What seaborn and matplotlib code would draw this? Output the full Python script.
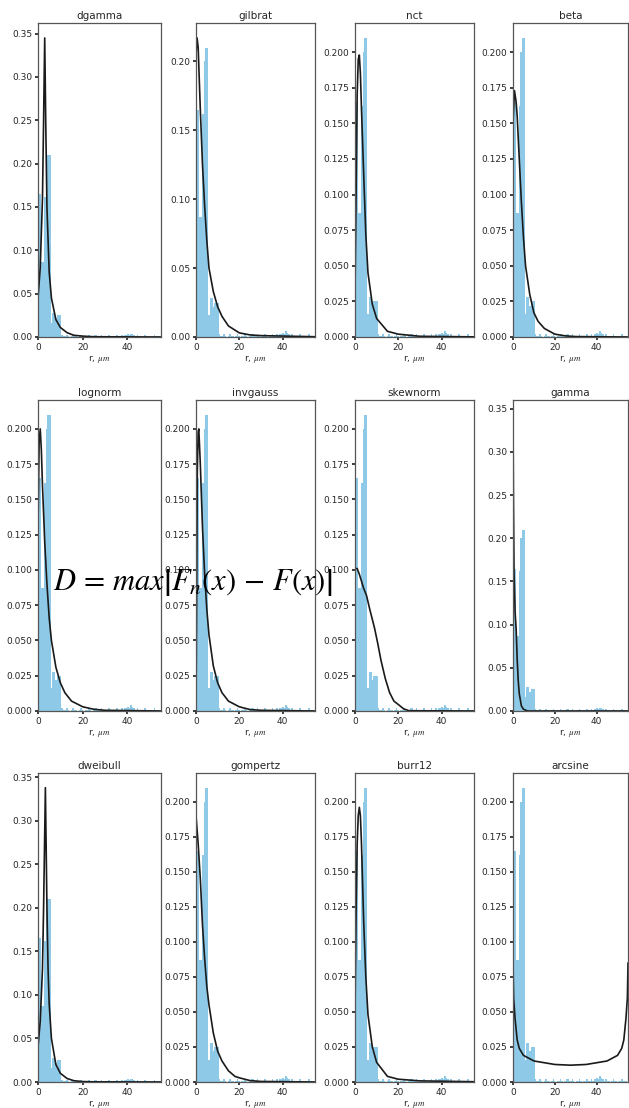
import numpy as np
import pandas as pd
import matplotlib
matplotlib.use('Agg')
import matplotlib.pyplot as plt
from matplotlib.ticker import MultipleLocator
import seaborn as sns

# histogram of measured radii (density), bin width 0.7 um starting at 0
bin_width = 0.7
hist_density = [0.165, 0.165, 0.087, 0.087, 0.162, 0.200, 0.210, 0.210, 0.016, 0.028,
                0.028, 0.022, 0.025, 0.025, 0.025,
                0.002, 0.001, 0.001, 0.002, 0.001, 0.0, 0.001, 0.002, 0.001, 0.001,
                0.0, 0.001, 0.002, 0.001, 0.0, 0.001, 0.001, 0.002, 0.001, 0.0,
                0.001, 0.002, 0.002, 0.001, 0.001, 0.002, 0.001, 0.0, 0.001, 0.001,
                0.002, 0.001, 0.0, 0.001, 0.001, 0.002, 0.001, 0.001, 0.002, 0.001,
                0.002, 0.002, 0.003, 0.002, 0.004, 0.003, 0.002, 0.001, 0.002, 0.001,
                0.001, 0.0, 0.001, 0.002, 0.001, 0.001, 0.0, 0.001, 0.001, 0.002,
                0.001, 0.001, 0.001, 0.0]

dist_names = ['dgamma', 'gilbrat', 'nct', 'beta',
              'lognorm', 'invgauss', 'skewnorm', 'gamma',
              'dweibull', 'gompertz', 'burr12', 'arcsine']

# fitted pdf curves
dgamma_x = [0, 1, 2, 2.5, 3, 3.5, 4, 5, 6, 8, 10, 13, 16, 20, 25, 55]
dgamma_y = [0.045, 0.08, 0.16, 0.25, 0.345, 0.24, 0.15, 0.075, 0.045, 0.02, 0.011, 0.005, 0.002, 0.001, 0.0003, 0]
gilbrat_x = [0, 0.5, 1, 2, 3, 4, 5, 6, 8, 10, 12, 15, 20, 25, 30, 55]
gilbrat_y = [0.205, 0.217, 0.21, 0.165, 0.125, 0.095, 0.07, 0.05, 0.033, 0.022, 0.015, 0.008, 0.003, 0.0015, 0.001, 0.0002]
nct_x = [0, 0.5, 1, 1.5, 2, 2.5, 3, 4, 5, 6, 8, 10, 15, 20, 30, 55]
nct_y = [0.03, 0.10, 0.17, 0.195, 0.198, 0.185, 0.16, 0.115, 0.072, 0.045, 0.023, 0.013, 0.004, 0.002, 0.0005, 0.0001]
beta_x = [0, 0.7, 1.5, 2, 3, 4, 5, 6, 8, 10, 12, 15, 20, 25, 30, 55]
beta_y = [0.15, 0.173, 0.165, 0.155, 0.125, 0.095, 0.07, 0.05, 0.03, 0.017, 0.011, 0.006, 0.002, 0.0008, 0.0003, 0]
lognorm_x = [0, 0.5, 1, 1.5, 2, 3, 4, 5, 6, 8, 10, 12, 15, 20, 25, 30, 55]
lognorm_y = [0.13, 0.19, 0.2, 0.185, 0.16, 0.12, 0.09, 0.066, 0.05, 0.031, 0.02, 0.013, 0.007, 0.003, 0.0012, 0.0005, 0]
invgauss_x = [0, 0.3, 0.6, 1, 1.3, 2, 3, 4, 5, 6, 8, 10, 12, 15, 20, 25, 30, 55]
invgauss_y = [0, 0.08, 0.17, 0.198, 0.2, 0.175, 0.13, 0.097, 0.072, 0.054, 0.032, 0.02, 0.013, 0.007, 0.003, 0.001, 0.0005, 0]
skewnorm_x = [0, 1, 2, 3, 4, 5.3, 7, 9, 10.5, 12, 14, 16, 18, 20.5, 22.5, 25, 55]
skewnorm_y = [0.101, 0.101, 0.097, 0.092, 0.087, 0.082, 0.071, 0.059, 0.048, 0.036, 0.023, 0.013, 0.007, 0.004, 0.0015, 0.0002, 0]
gamma_x = [0, 0.2, 0.5, 1, 1.5, 2, 2.5, 3, 4, 5, 7, 55]
gamma_y = [0.343, 0.25, 0.16, 0.115, 0.095, 0.06, 0.035, 0.02, 0.006, 0.002, 0, 0]
dweibull_x = [0, 1, 2, 2.5, 3.3, 4, 4.5, 5, 6, 8, 10, 13, 16, 20, 25, 55]
dweibull_y = [0.04, 0.07, 0.13, 0.2, 0.338, 0.2, 0.13, 0.09, 0.05, 0.02, 0.01, 0.004, 0.0015, 0.0005, 0.0002, 0]
gompertz_x = [0, 1, 2, 3, 4, 5, 6, 8, 10, 12, 15, 18, 20, 25, 30, 55]
gompertz_y = [0.19, 0.17, 0.145, 0.112, 0.088, 0.068, 0.055, 0.035, 0.022, 0.015, 0.008, 0.004, 0.003, 0.001, 0.0004, 0]
burr12_x = [0, 0.5, 1, 1.5, 2, 2.5, 3, 4, 5, 6, 8, 10, 15, 20, 30, 55]
burr12_y = [0.05, 0.12, 0.17, 0.19, 0.196, 0.19, 0.17, 0.115, 0.075, 0.048, 0.025, 0.014, 0.004, 0.002, 0.0008, 0.0002]
arcsine_x = [0, 0.3, 1, 2, 3, 5, 10, 20, 27.5, 35, 45, 50, 52, 53, 54, 54.7, 55]
arcsine_y = [0.085, 0.06, 0.045, 0.03, 0.024, 0.019, 0.015, 0.0125, 0.012, 0.0125, 0.015, 0.019, 0.024, 0.03, 0.045, 0.06, 0.085]

curves = [(dgamma_x, dgamma_y), (gilbrat_x, gilbrat_y), (nct_x, nct_y), (beta_x, beta_y),
          (lognorm_x, lognorm_y), (invgauss_x, invgauss_y), (skewnorm_x, skewnorm_y), (gamma_x, gamma_y),
          (dweibull_x, dweibull_y), (gompertz_x, gompertz_y), (burr12_x, burr12_y), (arcsine_x, arcsine_y)]
ytick_steps = [0.05, 0.05, 0.025, 0.025,
               0.025, 0.025, 0.025, 0.05,
               0.05, 0.025, 0.025, 0.025]
x_ticks = [0, 20, 40]

sns.set_theme(style='ticks')
plt.rcParams.update({
    'font.family': ['DejaVu Sans'],
    'axes.edgecolor': '#555555',
    'axes.linewidth': 0.9,
    'xtick.labelsize': 6.5,
    'ytick.labelsize': 6.5,
    'xtick.major.size': 2.5,
    'ytick.major.size': 2.5,
    'xtick.major.pad': 1.5,
    'ytick.major.pad': 1.5,
    'mathtext.fontset': 'stix',
})

W, H = 629, 1108
fig = plt.figure(figsize=(W / 100, H / 100), dpi=100)

# pixel layout of the 3x4 grid
col_left = [38, 196, 355, 513]
col_right = [161, 315, 474, 628]
row_top = [23, 400, 773]
row_bottom = [337, 711, 1082]

edges = [k * bin_width for k in range(len(hist_density) + 1)]
hist_df = pd.DataFrame({'r': [e + bin_width / 2 for e in edges[:-1]],
                        'density': hist_density})

for i, name in enumerate(dist_names):
    r, c = divmod(i, 4)
    rect = [col_left[c] / W, 1 - row_bottom[r] / H,
            (col_right[c] - col_left[c]) / W, (row_bottom[r] - row_top[r]) / H]
    ax = fig.add_axes(rect)
    sns.histplot(data=hist_df, x='r', weights='density', bins=edges, ax=ax,
                 color='#82c5e6', alpha=0.9, edgecolor='none', linewidth=0)
    cx, cy = curves[i]
    curve_df = pd.DataFrame({'r': cx, 'pdf': cy})
    sns.lineplot(data=curve_df, x='r', y='pdf', ax=ax, color='#1a1a1a', linewidth=1.2)
    top = max(max(cy), max(hist_density)) * 1.05
    ax.set_ylim(0, top)
    ax.set_xlim(0, 55)
    ax.set_xticks(x_ticks)
    ax.yaxis.set_major_locator(MultipleLocator(ytick_steps[i]))
    ax.set_ylabel('')
    ax.set_xlabel(r'r, $\mu m$', fontsize=6.5, labelpad=1)
    ax.set_title(name, fontsize=7.5, pad=3)

fig.text(53 / W, 1 - 582 / H, r'$D\,=\,max\left|F_n(x)\,-\,F(x)\right|$',
         fontsize=22, va='center', ha='left', color='black')

fig.savefig('out.png', dpi=100)
